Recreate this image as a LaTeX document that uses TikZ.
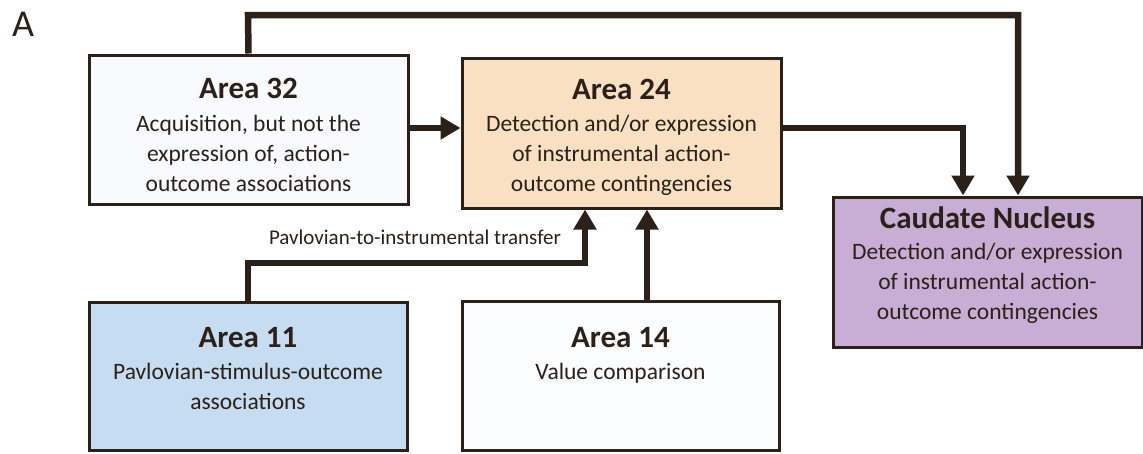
\documentclass[tikz,border=0pt]{standalone}
\usepackage{fontspec}
\setmainfont{Carlito}
\usepackage{tikz}
\usetikzlibrary{positioning, arrows.meta}

\definecolor{linecol}{HTML}{2B2118}
\definecolor{fill32}{HTML}{F8FAFD}
\definecolor{fill24}{HTML}{F9E0C2}
\definecolor{fill11}{HTML}{C6DCF0}
\definecolor{fill14}{HTML}{FAFCFE}
\definecolor{fillcn}{HTML}{C8AED4}

\newcommand{\titlefont}{\fontsize{31}{30}\selectfont\bfseries}

\begin{document}
\begin{tikzpicture}[x=1pt, y=-1pt, font=\fontsize{23.5}{30}\selectfont, text=linecol]
	\tikzstyle{area_style}=[rectangle, draw=linecol, line width=3pt, inner sep=0pt]
	\tikzstyle{text_style}=[below, align=center, inner sep=0pt]
	\tikzstyle{arrow_style}=[draw=linecol, line width=6.5pt, -{Triangle[length=20pt, width=22pt]}]
	\useasboundingbox (0,0) rectangle (1143,453);

	% panel letter
	\node at (23, 24) [font=\fontsize{38}{38}\selectfont] (panel) {A};

	% area 32
	\node at (248.5, 129.5) [area_style, fill=fill32, minimum width=319pt, minimum height=149pt] (area_32) {};
	\node at ([yshift=-24pt]area_32.north) [text_style] (area_32_text) {{\titlefont Area 32}\\[3pt]Acquisition, but not the\\expression of, action-\\outcome associations};

	% area 24
	\node at (621.5, 133) [area_style, fill=fill24, minimum width=319pt, minimum height=150pt] (area_24) {};
	\node at ([yshift=-22.5pt]area_24.north) [text_style] (area_24_text) {{\titlefont Area 24}\\[2pt]Detection and/or expression\\of instrumental action-\\outcome contingencies};

	% caudate nucleus
	\node at (987.5, 272) [area_style, fill=fillcn, minimum width=309pt, minimum height=150pt] (caudate) {};
	\node at ([yshift=-11.5pt]caudate.north) [text_style] (caudate_text) {{\titlefont Caudate Nucleus}\\[1pt]Detection and/or expression\\of instrumental action-\\outcome contingencies};

	% area 11
	\node at (248, 376) [area_style, fill=fill11, minimum width=318pt, minimum height=148pt] (area_11) {};
	\node at ([yshift=-26.5pt]area_11.north) [text_style] (area_11_text) {{\titlefont Area 11}\\[2pt]Pavlovian-stimulus-outcome\\associations};

	% area 14
	\node at (620.5, 375.5) [area_style, fill=fill14, minimum width=317pt, minimum height=149pt] (area_14) {};
	\node at ([yshift=-27.5pt]area_14.north) [text_style] (area_14_text) {{\titlefont Area 14}\\[2pt]Value comparison};

	% connect: area 32 -> caudate (over the top)
	\coordinate (top_bend) at (248, 15);
	\draw[arrow_style] (area_32.north) -- (top_bend) -| ([xshift=30.5pt]caudate.north);

	% connect: area 32 -> area 24
	\draw[arrow_style] ([yshift=1.5pt]area_32.east) -- ([yshift=1.5pt]area_32.east -| area_24.west);

	% connect: area 24 -> caudate
	\draw[arrow_style] ([yshift=5pt]area_24.east) -| ([xshift=-24.5pt]caudate.north);

	% connect: area 11 -> area 24
	\coordinate (pit_bend) at (248, 263);
	\draw[arrow_style] (area_11.north) -- (pit_bend) -| ([xshift=-36.5pt]area_24.south);
	\node at (415, 237) [font=\fontsize{21}{24}\selectfont] (pit_label) {Pavlovian-to-instrumental transfer};

	% connect: area 14 -> area 24
	\draw[arrow_style] ([xshift=26.5pt]area_14.north) -- ([xshift=26.5pt]area_14.north |- area_24.south);
\end{tikzpicture}
\end{document}
